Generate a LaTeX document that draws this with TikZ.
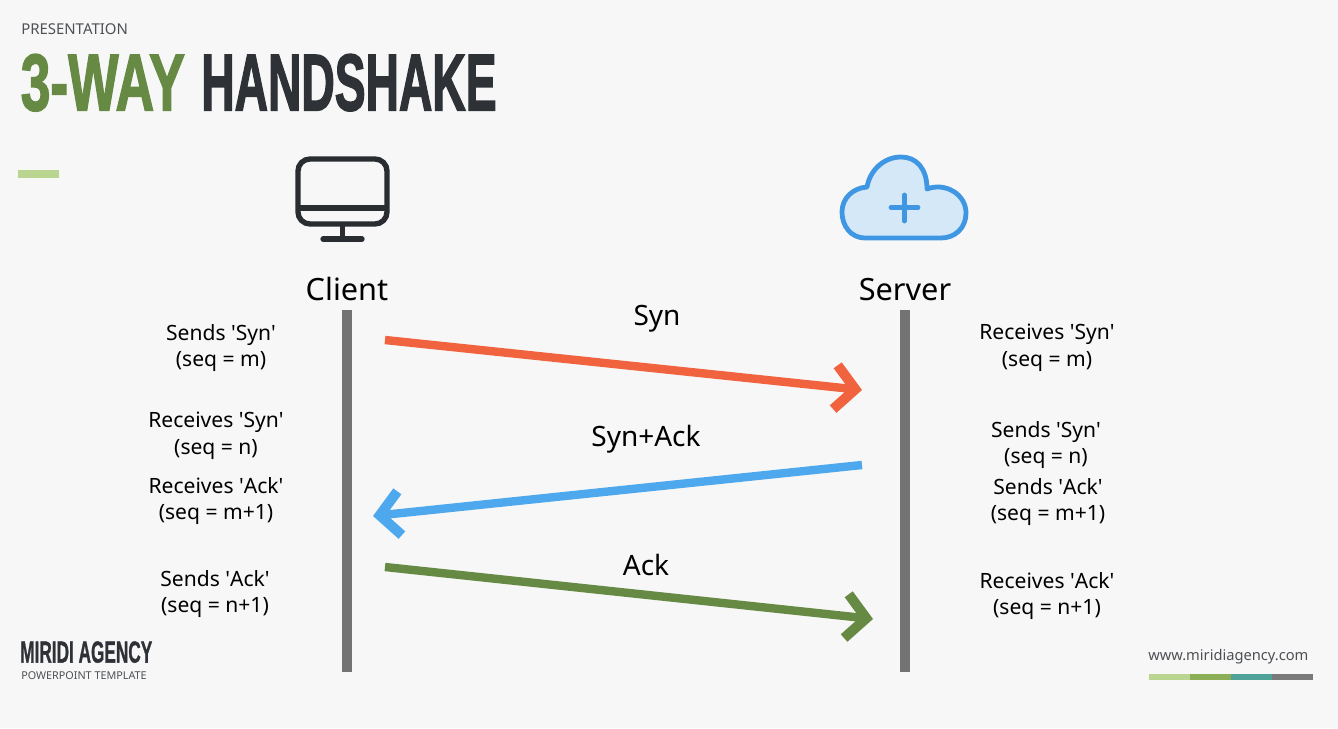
\documentclass[tikz,border=0pt]{standalone}
\usepackage{fontspec}
\usepackage{graphicx}
\setmainfont{Noto Sans}
\newfontfamily\titlefont{Liberation Sans Bold}[FakeBold=2.2]
\newfontfamily\smalltitlefont{Liberation Sans Bold}[FakeBold=1.2]
\usetikzlibrary{arrows.meta}
\definecolor{pagebg}{HTML}{F7F7F7}
\definecolor{inkdark}{HTML}{2E3136}
\definecolor{leafgreen}{HTML}{668A44}
\definecolor{palegreen}{HTML}{BAD58F}
\definecolor{midgreen}{HTML}{8BAE57}
\definecolor{tealbar}{HTML}{4FA297}
\definecolor{greybar}{HTML}{7A7A7A}
\definecolor{lifegrey}{HTML}{737373}
\definecolor{synred}{HTML}{F1623F}
\definecolor{ackblue}{HTML}{4DA8EE}
\definecolor{cloudblue}{HTML}{3F97E3}
\definecolor{cloudfill}{HTML}{D5E8F7}
\tikzset{
    note/.style={align=center,font=\fontsize{15.8}{20}\selectfont,text=black,inner sep=0pt},
    party/.style={font=\fontsize{23}{28}\selectfont,text=black,inner sep=0pt},
    msglabel/.style={font=\fontsize{21}{26}\selectfont,text=black,inner sep=0pt},
    lifeline/.style={line width=7.5pt,lifegrey},
    msg/.style={line width=6.3pt,-{Straight Barb[length=15pt,width=33pt,line width=7.5pt]}},
    titlepart/.style={inner sep=0pt,anchor=north west},
    iconline/.style={line width=4pt,color=inkdark!90!black}
}
\newcommand{\squeezed}[3]{\resizebox{#1}{#2}{\titlefont #3}}
\newcommand{\tick}{\textquotesingle}
\begin{document}
\begin{tikzpicture}[x=0.75pt,y=-0.75pt]
    \useasboundingbox[fill=pagebg] (0,0) rectangle (1338,728);

    % title block
    \node[anchor=north west,inner sep=0pt,text=inkdark!85,font=\fontsize{11.2}{12}\selectfont] (kicker) at (21,23) {PRESENTATION};
    \node[titlepart,text=leafgreen] (titlea) at (20.5,54) {\squeezed{123pt}{42pt}{3-WAY}};
    \node[titlepart,text=inkdark] (titleb) at (201,54) {\squeezed{221.5pt}{42pt}{HANDSHAKE}};
    \fill[palegreen] (18,170) rectangle (59,178);

    % client icon
    \draw[iconline,rounded corners=9pt] (298,159) rectangle (387,224);
    \draw[iconline] (298,208) -- (387,208);
    \draw[iconline] (342.5,224) -- (342.5,240);
    \draw[iconline,line cap=round] (323,239) -- (362,239);

    % server icon
    \draw[line width=3.6pt,color=cloudblue,fill=cloudfill,line join=round]
        (865,238) .. controls (851,238) and (842,226) .. (842,212)
        .. controls (842,198) and (853,188) .. (867,187)
        .. controls (870,170) and (884,157) .. (901,157)
        .. controls (916,157) and (927,168) .. (927,189)
        .. controls (945,182) and (966,194) .. (966,213)
        .. controls (966,228) and (955,238) .. (941,238) -- cycle;
    \draw[line width=3.6pt,color=cloudblue,line cap=round] (891,207.5) -- (918,207.5);
    \draw[line width=3.6pt,color=cloudblue,line cap=round] (904.5,195) -- (904.5,221);

    % lifelines
    \node[party,anchor=base] (client) at (347,300) {Client};
    \node[party,anchor=base] (server) at (905,300) {Server};
    \coordinate (clienttop) at (347,310);
    \coordinate (clientend) at (347,672);
    \coordinate (servertop) at (905,310);
    \coordinate (serverend) at (905,672);
    \draw[lifeline] (clienttop) -- (clientend);
    \draw[lifeline] (servertop) -- (serverend);

    % messages
    \coordinate (synfrom) at (385,340);
    \coordinate (synto) at (862,390);
    \coordinate (ackfrom) at (862,465);
    \coordinate (ackto) at (373,516);
    \coordinate (lastfrom) at (385,567);
    \coordinate (lastto) at (873,619);
    \draw[msg,synred] (synfrom) -- (synto);
    \draw[msg,ackblue] (ackfrom) -- (ackto);
    \draw[msg,leafgreen] (lastfrom) -- (lastto);
    \node[msglabel] (synlabel) at (657,319) {Syn};
    \node[msglabel] (synacklabel) at (646,439) {Syn+Ack};
    \node[msglabel] (acklabel) at (646,565) {Ack};

    % client side notes
    \node[note] (csyn) at (221,348) {Sends \tick Syn\tick\\(seq = m)};
    \node[note] (crsyn) at (216,436) {Receives \tick Syn\tick\\(seq = n)};
    \node[note] (crack) at (216,501) {Receives \tick Ack\tick\\(seq = m+1)};
    \node[note] (cack) at (215,594) {Sends \tick Ack\tick\\(seq = n+1)};

    % server side notes
    \node[note] (srsyn) at (1047,348) {Receives \tick Syn\tick\\(seq = m)};
    \node[note] (ssyn) at (1046,445) {Sends \tick Syn\tick\\(seq = n)};
    \node[note] (sack) at (1048,502) {Sends \tick Ack\tick\\(seq = m+1)};
    \node[note] (srack) at (1047,596) {Receives \tick Ack\tick\\(seq = n+1)};

    % footer
    \node[titlepart,text=inkdark] (agency) at (20,641) {\resizebox{99pt}{16pt}{\smalltitlefont MIRIDI AGENCY}};
    \node[anchor=north west,inner sep=0pt,text=inkdark!85,font=\fontsize{8.1}{10}\selectfont] (template) at (21,671) {POWERPOINT TEMPLATE};
    \node[anchor=north west,inner sep=0pt,text=inkdark!85,font=\fontsize{11}{13}\selectfont] (site) at (1148,649) {www.miridiagency.com};
    \fill[palegreen] (1149,674) rectangle (1190,680);
    \fill[midgreen] (1190,674) rectangle (1231,680);
    \fill[tealbar] (1231,674) rectangle (1272,680);
    \fill[greybar] (1272,674) rectangle (1313,680);
\end{tikzpicture}
\end{document}
